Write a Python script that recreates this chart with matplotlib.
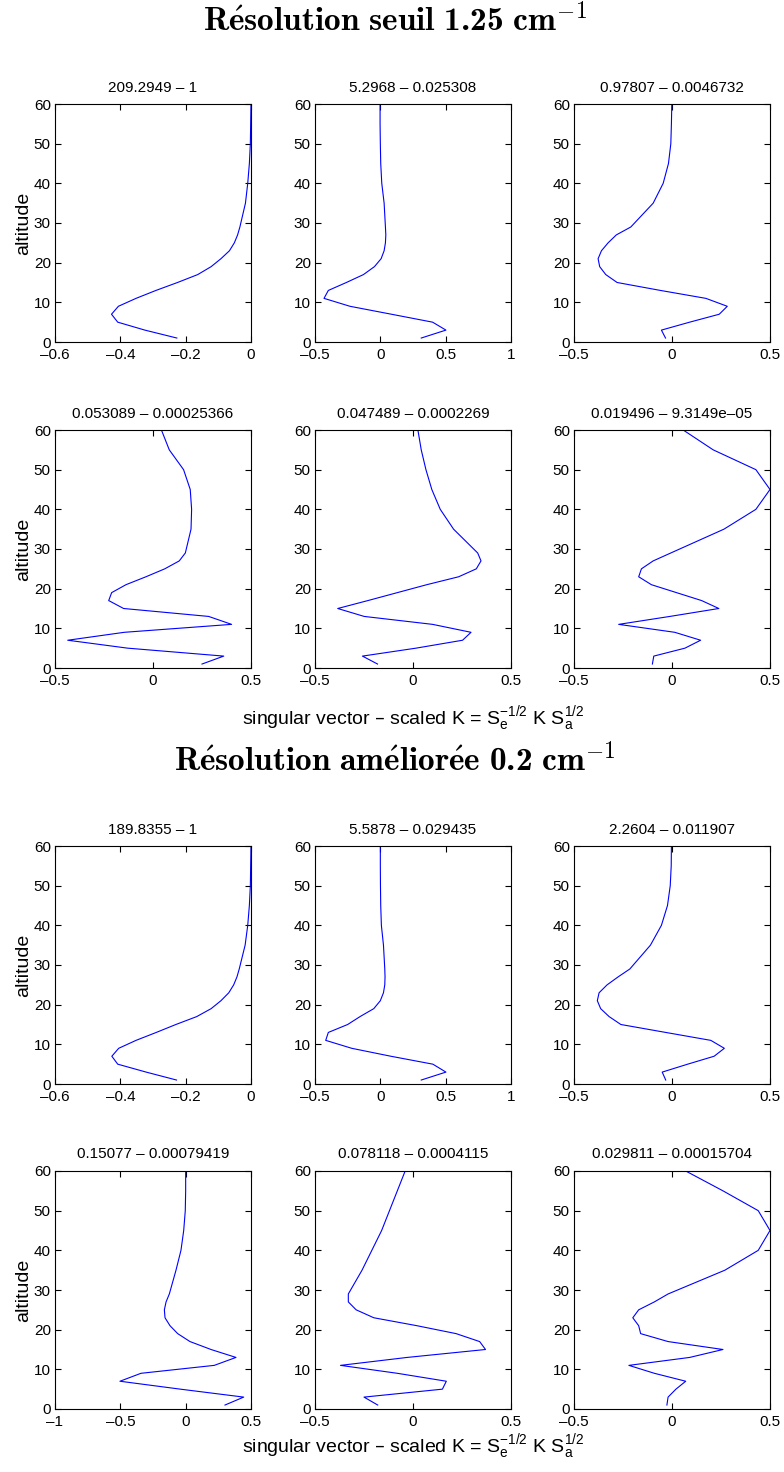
import matplotlib
matplotlib.use("Agg")
import matplotlib.pyplot as plt
from matplotlib.ticker import FuncFormatter
from matplotlib.font_manager import FontProperties

plt.rcParams['font.family'] = ['Liberation Sans', 'DejaVu Sans']
plt.rcParams['mathtext.bf'] = 'cmb10'
plt.rcParams['mathtext.rm'] = 'cmr10'
plt.rcParams['mathtext.it'] = 'cmmi10'

# altitude grid (km)
altitude = [1, 3, 5, 7, 9, 11, 13, 15, 17, 19, 21, 23, 25, 27, 29, 35, 40, 45, 50, 55, 60]

# ---- Résolution seuil 1.25 cm-1 ----
sv1_a = [-0.227, -0.325, -0.408, -0.427, -0.406, -0.352, -0.291, -0.225, -0.163, -0.122, -0.092,
         -0.066, -0.051, -0.041, -0.034, -0.017, -0.010, -0.005, -0.002, -0.001, 0.0]
sv1_b = [0.313, 0.502, 0.400, 0.085, -0.232, -0.431, -0.398, -0.26, -0.129, -0.045, 0.006,
         0.029, 0.039, 0.042, 0.039, 0.029, 0.011, 0.003, 0.0, -0.002, -0.002]
sv1_c = [-0.033, -0.054, 0.09, 0.241, 0.282, 0.173, -0.059, -0.280, -0.338, -0.369, -0.377,
         -0.360, -0.326, -0.284, -0.210, -0.096, -0.045, -0.018, -0.006, -0.003, -0.001]
sv1_d = [0.25, 0.361, -0.129, -0.435, -0.146, 0.401, 0.284, -0.150, -0.226, -0.211, -0.138,
         -0.036, 0.06, 0.134, 0.165, 0.194, 0.197, 0.19, 0.156, 0.083, 0.043]
sv1_e = [-0.181, -0.258, 0.015, 0.253, 0.296, 0.10, -0.249, -0.384, -0.23, -0.08, 0.07,
         0.233, 0.323, 0.347, 0.330, 0.207, 0.139, 0.096, 0.066, 0.042, 0.025]
sv1_f = [-0.10, -0.093, 0.066, 0.146, 0.014, -0.272, -0.011, 0.239, 0.151, 0.023, -0.105,
         -0.17, -0.156, -0.096, -0.006, 0.265, 0.428, 0.5, 0.428, 0.21, 0.057]

# ---- Résolution améliorée 0.2 cm-1 ----
sv2_a = [-0.228, -0.321, -0.408, -0.426, -0.405, -0.352, -0.29, -0.23, -0.166, -0.122, -0.092,
         -0.068, -0.053, -0.043, -0.036, -0.018, -0.010, -0.005, -0.002, -0.001, 0.0]
sv2_b = [0.313, 0.502, 0.402, 0.08, -0.219, -0.418, -0.398, -0.25, -0.155, -0.05, 0.0,
         0.024, 0.034, 0.036, 0.034, 0.024, 0.008, 0.003, 0.001, 0.0, 0.0]
sv2_c = [-0.032, -0.05, 0.08, 0.215, 0.267, 0.198, -0.032, -0.261, -0.321, -0.364, -0.381,
         -0.372, -0.331, -0.275, -0.215, -0.11, -0.054, -0.023, -0.009, -0.004, -0.003]
sv2_d = [0.301, 0.444, -0.04, -0.503, -0.342, 0.219, 0.385, 0.194, 0.033, -0.061, -0.12,
         -0.158, -0.163, -0.15, -0.125, -0.074, -0.036, -0.015, -0.003, 0.0, 0.0]
sv2_e = [-0.18, -0.25, 0.15, 0.17, -0.08, -0.37, -0.03, 0.37, 0.34, 0.22, 0.02,
         -0.2, -0.29, -0.33, -0.33, -0.26, -0.21, -0.16, -0.12, -0.08, -0.04]
sv2_f = [-0.026, -0.02, 0.02, 0.07, -0.09, -0.22, 0.09, 0.26, -0.02, -0.16, -0.17,
         -0.2, -0.17, -0.09, -0.02, 0.27, 0.44, 0.5, 0.44, 0.26, 0.07]

panel_titles = [
    "209.2949 – 1", "5.2968 – 0.025308", "0.97807 – 0.0046732",
    "0.053089 – 0.00025366", "0.047489 – 0.0002269", "0.019496 – 9.3149e–05",
    "189.8355 – 1", "5.5878 – 0.029435", "2.2604 – 0.011907",
    "0.15077 – 0.00079419", "0.078118 – 0.0004115", "0.029811 – 0.00015704",
]
series = [sv1_a, sv1_b, sv1_c, sv1_d, sv1_e, sv1_f,
          sv2_a, sv2_b, sv2_c, sv2_d, sv2_e, sv2_f]
xlims = [(-0.6, 0), (-0.5, 1), (-0.5, 0.5), (-0.5, 0.5), (-0.5, 0.5), (-0.5, 0.5),
         (-0.6, 0), (-0.5, 1), (-0.5, 0.5), (-1, 0.5), (-0.5, 0.5), (-0.5, 0.5)]
xticks = [[-0.6, -0.4, -0.2, 0], [-0.5, 0, 0.5, 1], [-0.5, 0, 0.5],
          [-0.5, 0, 0.5], [-0.5, 0, 0.5], [-0.5, 0, 0.5],
          [-0.6, -0.4, -0.2, 0], [-0.5, 0, 0.5, 1], [-0.5, 0, 0.5],
          [-1, -0.5, 0, 0.5], [-0.5, 0, 0.5], [-0.5, 0, 0.5]]
yticks = [0, 10, 20, 30, 40, 50, 60]

W, H = 784, 1472
fig = plt.figure(figsize=(W / 100, H / 100), dpi=100)

col_left = [55, 315, 574]
row_top = [104, 430, 846, 1171]
aw, ah = 196, 238

fmt = FuncFormatter(lambda v, p: ("%g" % v).replace("-", "\u2013"))

for i, (vals, title) in enumerate(zip(series, panel_titles)):
    r, c = divmod(i, 3)
    x0 = col_left[c] / W
    y0 = 1 - (row_top[r] + ah) / H
    ax = fig.add_axes([x0, y0, aw / W, ah / H])
    ax.plot(vals, altitude, color='#0000ff', lw=0.8)
    ax.set_xlim(*xlims[i])
    ax.set_ylim(0, 60)
    ax.set_xticks(xticks[i])
    ax.set_yticks(yticks)
    ax.xaxis.set_major_formatter(fmt)
    ax.tick_params(direction='in', top=True, right=True, labelsize=11, length=4, width=0.8, pad=3)
    ax.tick_params(axis='x', pad=4.5)
    for s in ax.spines.values():
        s.set_linewidth(0.8)
    ax.set_title(title, fontsize=11, pad=9)
    if c == 0:
        ax.set_ylabel("altitude", fontsize=14, labelpad=1)

xlab = r"singular vector – scaled K = $\mathregular{S_e^{-1/2}}$ K $\mathregular{S_a^{1/2}}$"
fig.text(413 / W, 1 - 719 / H, xlab, ha='center', va='center', fontsize=14)
fig.text(413 / W, 1 - 1447 / H, xlab, ha='center', va='center', fontsize=14)

tprop = FontProperties(size=24, math_fontfamily='custom')
fig.text(395 / W, 1 - 21 / H, r"$\mathbf{R\acute{e}solution\ seuil\ 1.25\ cm}^{-1}$",
         ha='center', va='center', fontproperties=tprop)
fig.text(395 / W, 1 - 761 / H, r"$\mathbf{R\acute{e}solution\ am\acute{e}lior\acute{e}e\ 0.2\ cm}^{-1}$",
         ha='center', va='center', fontproperties=tprop)

fig.savefig("out.png", dpi=100)
